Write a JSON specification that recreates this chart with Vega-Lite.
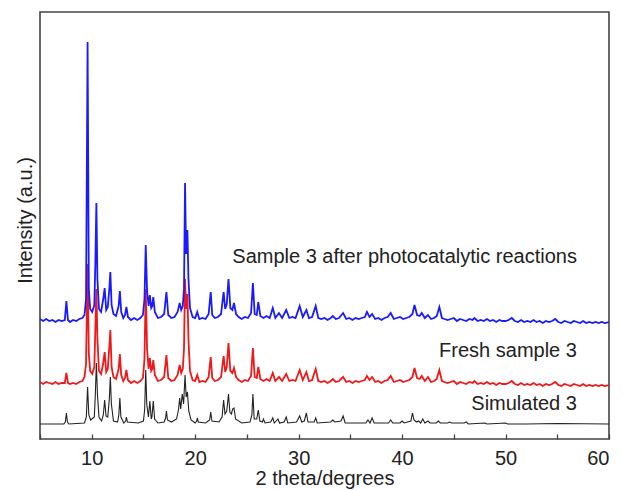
{
"$schema": "https://vega.github.io/schema/vega-lite/v6.json",
"width": 569, "height": 427,
"autosize": "none",
"padding": {"left": 40, "top": 12, "right": 14, "bottom": 51},
"background": "white",
"config": {"view": {"stroke": "#444", "strokeWidth": 1.6}, "font": "Liberation Sans"},
"datasets": {
"blue": [
{"a":5.0,"i":120},{"a":5.3,"i":118},{"a":5.6,"i":120},{"a":5.9,"i":118},{"a":6.2,"i":119},{"a":6.5,"i":117},{"a":6.8,"i":119},{"a":7.1,"i":118},{"a":7.4,"i":119},{"a":7.55,"i":138},{"a":7.7,"i":119},{"a":7.9,"i":117},{"a":8.2,"i":119},{"a":8.5,"i":118},{"a":8.8,"i":120},{"a":9.1,"i":121},{"a":9.3,"i":124},{"a":9.45,"i":140},{"a":9.6,"i":397},{"a":9.72,"i":150},{"a":9.85,"i":130},{"a":10.05,"i":127},{"a":10.25,"i":134},{"a":10.35,"i":175},{"a":10.45,"i":236},{"a":10.55,"i":160},{"a":10.7,"i":130},{"a":10.9,"i":127},{"a":11.1,"i":139},{"a":11.25,"i":151},{"a":11.4,"i":129},{"a":11.55,"i":132},{"a":11.7,"i":150},{"a":11.8,"i":167},{"a":11.92,"i":134},{"a":12.1,"i":125},{"a":12.35,"i":123},{"a":12.6,"i":133},{"a":12.72,"i":148},{"a":12.85,"i":127},{"a":13.05,"i":121},{"a":13.22,"i":124},{"a":13.35,"i":132},{"a":13.5,"i":122},{"a":13.8,"i":119},{"a":14.1,"i":121},{"a":14.4,"i":119},{"a":14.7,"i":121},{"a":14.95,"i":124},{"a":15.1,"i":140},{"a":15.22,"i":194},{"a":15.35,"i":148},{"a":15.5,"i":133},{"a":15.62,"i":144},{"a":15.75,"i":131},{"a":15.85,"i":133},{"a":15.95,"i":142},{"a":16.1,"i":127},{"a":16.4,"i":121},{"a":16.7,"i":122},{"a":17.0,"i":125},{"a":17.22,"i":147},{"a":17.4,"i":124},{"a":17.7,"i":121},{"a":18.0,"i":122},{"a":18.3,"i":127},{"a":18.5,"i":136},{"a":18.65,"i":129},{"a":18.8,"i":133},{"a":18.92,"i":150},{"a":19.02,"i":256},{"a":19.12,"i":185},{"a":19.25,"i":209},{"a":19.35,"i":160},{"a":19.5,"i":131},{"a":19.75,"i":122},{"a":20.0,"i":121},{"a":20.2,"i":127},{"a":20.4,"i":120},{"a":20.7,"i":121},{"a":21.0,"i":120},{"a":21.3,"i":125},{"a":21.5,"i":147},{"a":21.65,"i":124},{"a":21.9,"i":121},{"a":22.2,"i":122},{"a":22.5,"i":125},{"a":22.75,"i":147},{"a":22.9,"i":130},{"a":23.05,"i":135},{"a":23.22,"i":160},{"a":23.4,"i":131},{"a":23.6,"i":129},{"a":23.75,"i":136},{"a":23.95,"i":125},{"a":24.2,"i":122},{"a":24.5,"i":120},{"a":24.8,"i":122},{"a":25.1,"i":121},{"a":25.4,"i":126},{"a":25.58,"i":156},{"a":25.75,"i":125},{"a":25.95,"i":124},{"a":26.1,"i":137},{"a":26.3,"i":123},{"a":26.6,"i":121},{"a":26.9,"i":123},{"a":27.2,"i":121},{"a":27.5,"i":131},{"a":27.75,"i":121},{"a":28.1,"i":126},{"a":28.4,"i":121},{"a":28.8,"i":129},{"a":29.1,"i":121},{"a":29.4,"i":122},{"a":29.7,"i":121},{"a":30.1,"i":133},{"a":30.4,"i":122},{"a":30.75,"i":129},{"a":31.0,"i":121},{"a":31.3,"i":122},{"a":31.65,"i":133},{"a":31.9,"i":121},{"a":32.2,"i":120},{"a":32.5,"i":121},{"a":32.8,"i":119},{"a":33.1,"i":121},{"a":33.3,"i":123},{"a":33.6,"i":120},{"a":33.9,"i":121},{"a":34.3,"i":126},{"a":34.6,"i":120},{"a":34.9,"i":121},{"a":35.2,"i":119},{"a":35.5,"i":121},{"a":35.8,"i":120},{"a":36.1,"i":121},{"a":36.4,"i":122},{"a":36.6,"i":127},{"a":36.85,"i":122},{"a":37.1,"i":125},{"a":37.4,"i":120},{"a":37.7,"i":121},{"a":38.0,"i":119},{"a":38.3,"i":121},{"a":38.6,"i":122},{"a":38.9,"i":126},{"a":39.2,"i":120},{"a":39.5,"i":121},{"a":39.8,"i":122},{"a":40.1,"i":120},{"a":40.4,"i":121},{"a":40.7,"i":122},{"a":41.0,"i":125},{"a":41.2,"i":134},{"a":41.45,"i":124},{"a":41.7,"i":123},{"a":41.9,"i":126},{"a":42.2,"i":121},{"a":42.5,"i":124},{"a":42.8,"i":120},{"a":43.1,"i":121},{"a":43.35,"i":123},{"a":43.6,"i":132},{"a":43.85,"i":121},{"a":44.1,"i":120},{"a":44.4,"i":119},{"a":44.7,"i":120},{"a":45.0,"i":121},{"a":45.3,"i":118},{"a":45.6,"i":120},{"a":45.9,"i":119},{"a":46.2,"i":118},{"a":46.5,"i":120},{"a":46.8,"i":119},{"a":47.0,"i":121},{"a":47.3,"i":118},{"a":47.6,"i":119},{"a":47.9,"i":118},{"a":48.2,"i":120},{"a":48.5,"i":118},{"a":48.8,"i":119},{"a":49.1,"i":117},{"a":49.4,"i":119},{"a":49.7,"i":118},{"a":50.0,"i":118},{"a":50.3,"i":119},{"a":50.6,"i":121},{"a":50.9,"i":118},{"a":51.2,"i":117},{"a":51.5,"i":119},{"a":51.8,"i":117},{"a":52.1,"i":118},{"a":52.4,"i":117},{"a":52.7,"i":119},{"a":53.0,"i":117},{"a":53.3,"i":118},{"a":53.6,"i":116},{"a":53.9,"i":118},{"a":54.2,"i":117},{"a":54.5,"i":118},{"a":54.8,"i":120},{"a":55.1,"i":117},{"a":55.4,"i":116},{"a":55.7,"i":118},{"a":56.0,"i":117},{"a":56.3,"i":116},{"a":56.6,"i":118},{"a":56.9,"i":117},{"a":57.2,"i":116},{"a":57.5,"i":118},{"a":57.8,"i":116},{"a":58.1,"i":117},{"a":58.4,"i":116},{"a":58.7,"i":117},{"a":59.0,"i":116},{"a":59.3,"i":117},{"a":59.6,"i":116},{"a":60.0,"i":117}
],
"red": [
{"a":5.0,"i":57},{"a":5.3,"i":55},{"a":5.6,"i":57},{"a":5.9,"i":56},{"a":6.2,"i":55},{"a":6.5,"i":57},{"a":6.8,"i":55},{"a":7.1,"i":56},{"a":7.4,"i":56},{"a":7.55,"i":66},{"a":7.7,"i":56},{"a":7.9,"i":55},{"a":8.2,"i":56},{"a":8.5,"i":55},{"a":8.8,"i":57},{"a":9.1,"i":58},{"a":9.3,"i":62},{"a":9.45,"i":75},{"a":9.6,"i":175},{"a":9.72,"i":85},{"a":9.85,"i":68},{"a":10.05,"i":65},{"a":10.25,"i":72},{"a":10.35,"i":110},{"a":10.45,"i":150},{"a":10.55,"i":100},{"a":10.7,"i":68},{"a":10.9,"i":65},{"a":11.1,"i":75},{"a":11.25,"i":87},{"a":11.4,"i":67},{"a":11.55,"i":70},{"a":11.7,"i":92},{"a":11.8,"i":109},{"a":11.92,"i":72},{"a":12.1,"i":62},{"a":12.35,"i":60},{"a":12.6,"i":70},{"a":12.72,"i":85},{"a":12.85,"i":64},{"a":13.05,"i":58},{"a":13.22,"i":61},{"a":13.35,"i":69},{"a":13.5,"i":59},{"a":13.8,"i":56},{"a":14.1,"i":58},{"a":14.4,"i":56},{"a":14.7,"i":58},{"a":14.95,"i":61},{"a":15.1,"i":80},{"a":15.22,"i":150},{"a":15.35,"i":90},{"a":15.5,"i":70},{"a":15.62,"i":81},{"a":15.75,"i":68},{"a":15.85,"i":70},{"a":15.95,"i":79},{"a":16.1,"i":64},{"a":16.4,"i":58},{"a":16.7,"i":59},{"a":17.0,"i":62},{"a":17.22,"i":84},{"a":17.4,"i":61},{"a":17.7,"i":58},{"a":18.0,"i":59},{"a":18.3,"i":64},{"a":18.5,"i":74},{"a":18.65,"i":66},{"a":18.8,"i":70},{"a":18.92,"i":90},{"a":19.02,"i":160},{"a":19.12,"i":130},{"a":19.25,"i":145},{"a":19.35,"i":100},{"a":19.5,"i":68},{"a":19.75,"i":59},{"a":20.0,"i":58},{"a":20.2,"i":64},{"a":20.4,"i":57},{"a":20.7,"i":58},{"a":21.0,"i":57},{"a":21.3,"i":62},{"a":21.5,"i":82},{"a":21.65,"i":61},{"a":21.9,"i":58},{"a":22.2,"i":59},{"a":22.5,"i":62},{"a":22.75,"i":83},{"a":22.9,"i":67},{"a":23.05,"i":72},{"a":23.22,"i":96},{"a":23.4,"i":68},{"a":23.6,"i":66},{"a":23.75,"i":71},{"a":23.95,"i":62},{"a":24.2,"i":59},{"a":24.5,"i":57},{"a":24.8,"i":59},{"a":25.1,"i":58},{"a":25.4,"i":63},{"a":25.58,"i":91},{"a":25.75,"i":62},{"a":25.95,"i":61},{"a":26.1,"i":72},{"a":26.3,"i":60},{"a":26.6,"i":58},{"a":26.9,"i":60},{"a":27.2,"i":58},{"a":27.5,"i":66},{"a":27.75,"i":58},{"a":28.1,"i":62},{"a":28.4,"i":58},{"a":28.8,"i":65},{"a":29.1,"i":58},{"a":29.4,"i":59},{"a":29.7,"i":58},{"a":30.1,"i":69},{"a":30.4,"i":59},{"a":30.75,"i":67},{"a":31.0,"i":58},{"a":31.3,"i":59},{"a":31.65,"i":70},{"a":31.9,"i":58},{"a":32.2,"i":57},{"a":32.5,"i":58},{"a":32.8,"i":56},{"a":33.1,"i":58},{"a":33.3,"i":60},{"a":33.6,"i":57},{"a":33.9,"i":58},{"a":34.3,"i":62},{"a":34.6,"i":57},{"a":34.9,"i":58},{"a":35.2,"i":56},{"a":35.5,"i":58},{"a":35.8,"i":57},{"a":36.1,"i":58},{"a":36.4,"i":59},{"a":36.6,"i":63},{"a":36.85,"i":59},{"a":37.1,"i":62},{"a":37.4,"i":57},{"a":37.7,"i":58},{"a":38.0,"i":56},{"a":38.3,"i":58},{"a":38.6,"i":59},{"a":38.9,"i":63},{"a":39.2,"i":57},{"a":39.5,"i":58},{"a":39.8,"i":59},{"a":40.1,"i":57},{"a":40.4,"i":58},{"a":40.7,"i":59},{"a":41.0,"i":62},{"a":41.2,"i":71},{"a":41.45,"i":61},{"a":41.7,"i":60},{"a":41.9,"i":63},{"a":42.2,"i":58},{"a":42.5,"i":62},{"a":42.8,"i":57},{"a":43.1,"i":58},{"a":43.35,"i":60},{"a":43.6,"i":69},{"a":43.85,"i":58},{"a":44.1,"i":57},{"a":44.4,"i":56},{"a":44.7,"i":57},{"a":45.0,"i":58},{"a":45.3,"i":55},{"a":45.6,"i":57},{"a":45.9,"i":56},{"a":46.2,"i":55},{"a":46.5,"i":57},{"a":46.8,"i":56},{"a":47.0,"i":58},{"a":47.3,"i":55},{"a":47.6,"i":56},{"a":47.9,"i":55},{"a":48.2,"i":57},{"a":48.5,"i":55},{"a":48.8,"i":56},{"a":49.1,"i":54},{"a":49.4,"i":56},{"a":49.7,"i":55},{"a":50.0,"i":55},{"a":50.3,"i":56},{"a":50.6,"i":58},{"a":50.9,"i":55},{"a":51.2,"i":54},{"a":51.5,"i":56},{"a":51.8,"i":54},{"a":52.1,"i":55},{"a":52.4,"i":54},{"a":52.7,"i":56},{"a":53.0,"i":54},{"a":53.3,"i":55},{"a":53.6,"i":53},{"a":53.9,"i":55},{"a":54.2,"i":54},{"a":54.5,"i":55},{"a":54.8,"i":57},{"a":55.1,"i":54},{"a":55.4,"i":53},{"a":55.7,"i":55},{"a":56.0,"i":54},{"a":56.3,"i":53},{"a":56.6,"i":55},{"a":56.9,"i":54},{"a":57.2,"i":53},{"a":57.5,"i":55},{"a":57.8,"i":53},{"a":58.1,"i":54},{"a":58.4,"i":53},{"a":58.7,"i":54},{"a":59.0,"i":53},{"a":59.3,"i":54},{"a":59.6,"i":53},{"a":60.0,"i":54}
],
"black": [
{"a":5.0,"i":15},{"a":7.3,"i":15},{"a":7.45,"i":17},{"a":7.55,"i":26},{"a":7.65,"i":17},{"a":7.8,"i":15},{"a":9.3,"i":16},{"a":9.48,"i":22},{"a":9.6,"i":52},{"a":9.72,"i":24},{"a":9.9,"i":19},{"a":10.25,"i":22},{"a":10.35,"i":45},{"a":10.45,"i":76},{"a":10.55,"i":45},{"a":10.7,"i":22},{"a":10.95,"i":18},{"a":11.12,"i":24},{"a":11.25,"i":39},{"a":11.38,"i":23},{"a":11.55,"i":22},{"a":11.7,"i":40},{"a":11.8,"i":62},{"a":11.9,"i":35},{"a":12.1,"i":18},{"a":12.5,"i":17},{"a":12.62,"i":24},{"a":12.72,"i":41},{"a":12.82,"i":22},{"a":13.1,"i":16},{"a":13.28,"i":18},{"a":13.35,"i":22},{"a":13.45,"i":17},{"a":14.5,"i":16},{"a":15.0,"i":18},{"a":15.12,"i":30},{"a":15.22,"i":69},{"a":15.32,"i":35},{"a":15.48,"i":22},{"a":15.62,"i":38},{"a":15.75,"i":20},{"a":15.82,"i":22},{"a":15.95,"i":38},{"a":16.08,"i":20},{"a":16.4,"i":16},{"a":17.0,"i":17},{"a":17.14,"i":21},{"a":17.22,"i":28},{"a":17.32,"i":19},{"a":17.7,"i":17},{"a":18.2,"i":20},{"a":18.4,"i":30},{"a":18.5,"i":41},{"a":18.6,"i":30},{"a":18.75,"i":45},{"a":18.88,"i":35},{"a":19.02,"i":64},{"a":19.13,"i":42},{"a":19.25,"i":47},{"a":19.38,"i":28},{"a":19.6,"i":19},{"a":20.0,"i":16},{"a":20.15,"i":18},{"a":20.2,"i":21},{"a":20.3,"i":17},{"a":21.0,"i":16},{"a":21.4,"i":19},{"a":21.5,"i":27},{"a":21.62,"i":18},{"a":22.3,"i":17},{"a":22.6,"i":22},{"a":22.75,"i":39},{"a":22.88,"i":25},{"a":23.05,"i":28},{"a":23.22,"i":45},{"a":23.35,"i":27},{"a":23.5,"i":25},{"a":23.62,"i":30},{"a":23.75,"i":31},{"a":23.9,"i":20},{"a":24.5,"i":16},{"a":25.3,"i":17},{"a":25.48,"i":24},{"a":25.58,"i":45},{"a":25.7,"i":20},{"a":25.95,"i":20},{"a":26.1,"i":29},{"a":26.25,"i":18},{"a":26.5,"i":17},{"a":26.6,"i":20},{"a":26.75,"i":16},{"a":27.3,"i":17},{"a":27.5,"i":21},{"a":27.65,"i":16},{"a":28.0,"i":20},{"a":28.15,"i":16},{"a":28.6,"i":17},{"a":28.8,"i":22},{"a":28.95,"i":16},{"a":29.8,"i":17},{"a":30.1,"i":23},{"a":30.3,"i":17},{"a":30.55,"i":18},{"a":30.75,"i":26},{"a":30.9,"i":17},{"a":31.5,"i":17},{"a":31.65,"i":21},{"a":31.8,"i":16},{"a":33.1,"i":17},{"a":33.3,"i":19},{"a":33.5,"i":17},{"a":34.1,"i":18},{"a":34.3,"i":23},{"a":34.5,"i":16},{"a":36.5,"i":16},{"a":36.7,"i":19},{"a":36.9,"i":16},{"a":37.1,"i":21},{"a":37.3,"i":16},{"a":38.7,"i":16},{"a":38.9,"i":19},{"a":39.1,"i":16},{"a":39.8,"i":16},{"a":40.0,"i":18},{"a":40.2,"i":16},{"a":40.85,"i":18},{"a":41.0,"i":26},{"a":41.15,"i":19},{"a":41.4,"i":17},{"a":41.6,"i":18},{"a":41.8,"i":16},{"a":42.0,"i":20},{"a":42.2,"i":16},{"a":42.5,"i":18},{"a":42.7,"i":16},{"a":43.3,"i":16},{"a":43.5,"i":18},{"a":43.7,"i":16},{"a":44.4,"i":16},{"a":44.6,"i":17},{"a":44.8,"i":16},{"a":46.0,"i":16},{"a":46.2,"i":17},{"a":46.4,"i":15},{"a":48.0,"i":16},{"a":48.2,"i":15},{"a":50.0,"i":16},{"a":50.2,"i":15},{"a":52.0,"i":15},{"a":55.0,"i":15.5},{"a":60.0,"i":15}
],
"labels": [
{"a":56.9,"i":176,"label":"Sample 3 after photocatalytic reactions"},
{"a":56.9,"i":82,"label":"Fresh sample 3"},
{"a":56.9,"i":29,"label":"Simulated 3"}
]
},
"encoding": {
"x": {"field": "a", "type": "quantitative",
  "scale": {"domain": [5, 60], "nice": false, "zero": false},
  "axis": {"title": "2 theta/degrees", "values": [5,10,15,20,25,30,35,40,45,50,55,60],
    "labelExpr": "datum.value % 10 === 0 ? datum.label : ''",
    "domain": false, "grid": false, "ticks": true, "tickSize": -5, "tickColor": "#444", "tickWidth": 1.3,
    "labelFont": "Liberation Sans", "labelFontSize": 20, "labelColor": "#222", "labelPadding": 14,
    "titleFont": "Liberation Sans", "titleFontSize": 20, "titleFontWeight": "normal", "titleColor": "#222", "titlePadding": 0}},
"y": {"field": "i", "type": "quantitative",
  "scale": {"domain": [0, 427], "nice": false, "zero": false},
  "axis": {"title": "Intensity (a.u.)", "labels": false, "ticks": false, "domain": false, "grid": false,
    "titleFont": "Liberation Sans", "titleFontSize": 20, "titleFontWeight": "normal", "titleColor": "#222", "titlePadding": 5, "titleY": 208}}
},
"layer": [
{"data": {"name": "red"}, "mark": {"type": "line", "color": "#f01818", "strokeWidth": 1.8, "clip": true}},
{"data": {"name": "blue"}, "mark": {"type": "line", "color": "#1a1aff", "strokeWidth": 1.8, "clip": true}},
{"data": {"name": "black"}, "mark": {"type": "line", "color": "#222222", "strokeWidth": 1.1, "clip": true}},
{"data": {"name": "labels"}, "mark": {"type": "text", "align": "right", "baseline": "alphabetic", "font": "Liberation Sans", "fontSize": 20, "color": "#222"},
 "encoding": {"text": {"field": "label", "type": "nominal"}}}
]
}
